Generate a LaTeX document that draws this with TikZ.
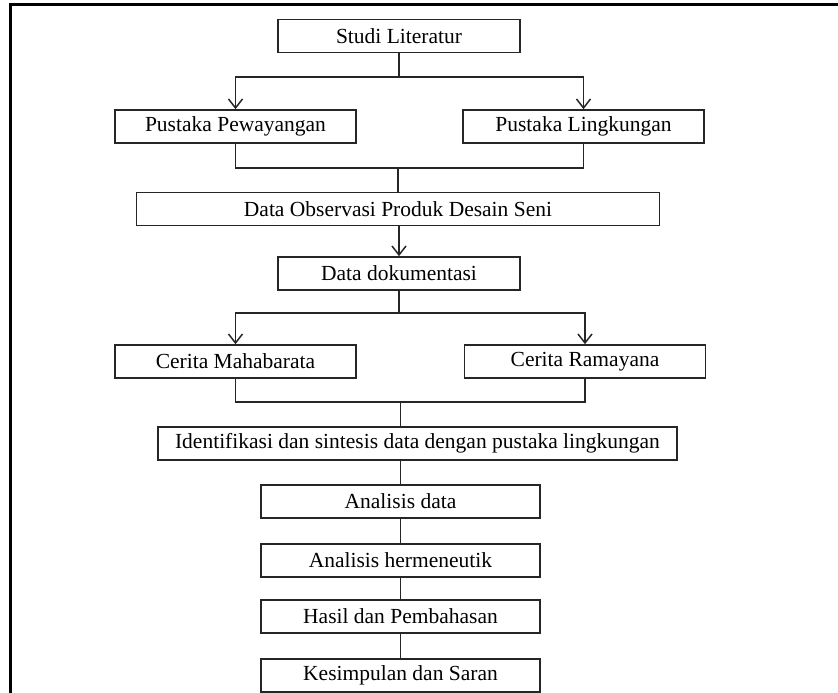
\documentclass[tikz,border=0pt]{standalone}
\usepackage{fontspec}
\setmainfont{Liberation Serif}
\usepackage{xcolor}
\usetikzlibrary{arrows.meta}

\begin{document}
\begin{tikzpicture}[x=1pt,y=-1pt,
		box/.style={draw=black!85, line width=1.6pt, minimum height=33pt, inner sep=0pt, font=\fontsize{21.5}{24}\selectfont},
		conn/.style={draw=black!85, line width=1.6pt},
		>={Straight Barb[length=9pt,width=14pt,line width=1.5pt]}]
		\useasboundingbox (0,0) rectangle (838,693);
		\draw [line width=3pt] (10,693) -- (10,5) -- (838,5);
		
		\node [box, minimum width=242pt] (studi) at (399,36) {Studi Literatur};
		\node [box, minimum width=241pt] (pewayangan) at (235.5,126.5) {Pustaka Pewayangan};
		\node [box, minimum width=241pt] (lingkungan) at (583.5,126.5) {Pustaka Lingkungan};
		\node [box, minimum width=523pt] (observasi) at (398,209) {Data Observasi Produk Desain Seni};
		\node [box, minimum width=242pt] (dokumentasi) at (399,273.5) {Data dokumentasi};
		\node [box, minimum width=241pt] (mahabarata) at (235.5,361.5) {Cerita Mahabarata};
		\node [box, minimum width=241pt] (ramayana) at (585,361.5) {Cerita Ramayana};
		\node [box, minimum width=519pt] (identifikasi) at (417.5,443.5) {Identifikasi dan sintesis data dengan pustaka lingkungan};
		\node [box, minimum width=279pt] (analisis) at (400.5,501.5) {Analisis data};
		\node [box, minimum width=279pt] (hermeneutik) at (400.5,560.5) {Analisis hermeneutik};
		\node [box, minimum width=279pt] (hasil) at (400.5,616.5) {Hasil dan Pembahasan};
		\node [box, minimum width=279pt] (kesimpulan) at (400.5,675.5) {Kesimpulan dan Saran};
		
		\coordinate (s1) at (399,77);
		\coordinate (m1) at (398,168);
		\coordinate (s2) at (399,313);
		\coordinate (m2) at (400.5,402);
		
		\draw [conn] (studi) -- (s1);
		\draw [conn,->] (s1) -| (pewayangan);
		\draw [conn,->] (s1) -| (lingkungan);
		\draw [conn] (pewayangan) |- (m1) -| (lingkungan);
		\draw [conn] (m1) -- (observasi);
		\draw [conn,->] (observasi.south -| dokumentasi.north) -- (dokumentasi);
		\draw [conn] (dokumentasi) -- (s2);
		\draw [conn,->] (s2) -| (mahabarata);
		\draw [conn,->] (s2) -| (ramayana);
		\draw [conn] (mahabarata) |- (m2) -| (ramayana);
		\draw [conn] (m2) -- (m2 |- identifikasi.north);
		\draw [conn] (identifikasi.south -| analisis.north) -- (analisis);
		\draw [conn] (analisis) -- (hermeneutik);
		\draw [conn] (hermeneutik) -- (hasil);
		\draw [conn] (hasil) -- (kesimpulan);
	\end{tikzpicture}
\end{document}
